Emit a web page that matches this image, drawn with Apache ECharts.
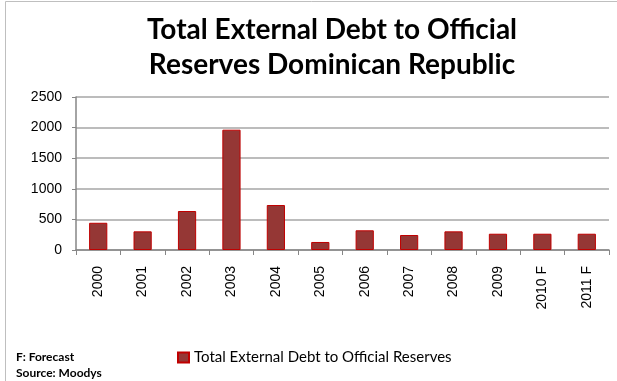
<!DOCTYPE html>
<html><head><meta charset="utf-8">
<script src="https://cdn.jsdelivr.net/npm/echarts@6/dist/echarts.min.js"></script>
<style>html,body{margin:0;padding:0;background:#fff}#c{width:617px;height:381px}</style>
</head><body><div id="c"></div>
<script>
const categories = ['2000','2001','2002','2003','2004','2005','2006','2007','2008','2009','2010 F','2011 F'];
const values = [445, 305, 637, 1966, 735, 131, 322, 245, 305, 266, 266, 266];
const yTicks = [0, 500, 1000, 1500, 2000, 2500];
const seriesName = 'Total External Debt to Official Reserves';
const titleLines = ['Total External Debt to Official', 'Reserves Dominican Republic'];
const notes = ['F: Forecast', 'Source: Moodys'];

const chart = echarts.init(document.getElementById('c'));
const FONT = 'Lato';
const AXFONT = 'Liberation Sans';
chart.setOption({
  animation: false,
  graphic: [
    {type:'rect', shape:{x:5.5,y:1.5,width:640,height:400}, style:{fill:'none', stroke:'#bfbfbf', lineWidth:1}},
    {type:'text', x:332, y:30, style:{text:titleLines[0], font:'bold 28px '+FONT, fill:'#000', textAlign:'center', textVerticalAlign:'middle'}},
    {type:'text', x:332, y:65, style:{text:titleLines[1], font:'bold 28px '+FONT, fill:'#000', textAlign:'center', textVerticalAlign:'middle'}},
    {type:'text', x:16, y:357, style:{text:notes[0], font:'bold 12px '+FONT, fill:'#000', textVerticalAlign:'middle'}},
    {type:'text', x:16, y:373.5, style:{text:notes[1], font:'bold 12px '+FONT, fill:'#000', textVerticalAlign:'middle'}}
  ],
  legend: {
    left: 177, top: 350, itemWidth: 11, itemHeight: 10, padding: 0, icon: 'rect',
    textStyle: {fontFamily: FONT, fontSize: 15, color: '#000'},
    data: [seriesName]
  },
  grid: {left: 76, right: 8, top: 97, bottom: 131, containLabel: false},
  xAxis: {
    type: 'category', data: categories,
    axisLine: {lineStyle: {color: '#868686', width: 1.5}},
    axisTick: {show: true, length: 5, lineStyle: {color: '#868686'}},
    axisLabel: {rotate: 90, fontFamily: AXFONT, fontSize: 14, color: '#000', margin: 16}
  },
  yAxis: {
    type: 'value', min: 0, max: 2500, interval: 500,
    axisLine: {show: true, lineStyle: {color: '#868686', width: 1.5}},
    axisTick: {show: true, inside: false, length: 4, lineStyle: {color: '#868686'}},
    axisLabel: {fontFamily: AXFONT, fontSize: 14, color: '#000', margin: 14,
      formatter: v => yTicks.includes(v) ? String(v) : ''},
    splitLine: {lineStyle: {color: '#a6a6a6', width: 1.5}}
  },
  series: [{
    name: seriesName, type: 'bar', data: values, barWidth: '41%',
    itemStyle: {color: '#953735', borderColor: '#C00000', borderWidth: 1}
  }]
});
</script></body></html>
